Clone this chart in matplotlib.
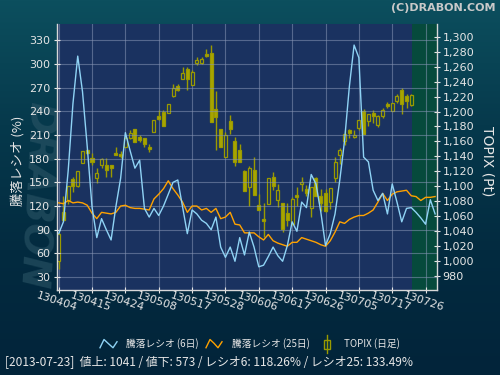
import numpy as np
import matplotlib
matplotlib.use("Agg")
import matplotlib.pyplot as plt
from matplotlib.lines import Line2D
from matplotlib.patches import Rectangle
from matplotlib.colors import LinearSegmentedColormap

plt.rcParams['font.family'] = ['DejaVu Sans', 'Noto Sans CJK JP']
JP = ['Noto Sans CJK JP', 'DejaVu Sans']

# ---------------- data ----------------
tick_labels = ['130404', '130415', '130424', '130508', '130517', '130528',
               '130606', '130617', '130626', '130705', '130717', '130726']
tick_days = [0, 7, 14, 21, 28, 35, 42, 49, 56, 63, 70, 77]

topix_open = [1000, 1066, 1082, 1110, 1100, 1131, 1148, 1138, 1111, 1128,
              1128, 1128, 1145, 1143, 1153, 1165, 1176, 1166, 1164, 1153,
              1172.5, 1193.5, 1199, 1198, 1220.4, 1234.3, 1243.7, 1256.2, 1235.2, 1265.1,
              1265, 1277.2, 1277.7, 1203.8, 1176.1, 1139, 1186.8, 1160, 1148.8, 1121.1,
              1099.6, 1122, 1075.4, 1056.2, 1076.3, 1113, 1082.1, 1077.2, 1063.8, 1049.5,
              1088, 1103.2, 1096.5, 1071, 1111.2, 1087.5, 1091.1, 1078.6, 1111.2, 1142.1,
              1160.4, 1174.7, 1166.3, 1178.3, 1200.7, 1186.8, 1197.6, 1182, 1194, 1209.6,
              1200.7, 1214.1, 1229.3, 1220.8, 1208.3]
topix_high = [1037, 1087, 1101, 1112, 1121, 1147, 1149, 1145, 1125, 1138,
              1138, 1129, 1153, 1147, 1166, 1175, 1177, 1169, 1165, 1156,
              1188, 1202.5, 1202, 1210.5, 1237.4, 1237.4, 1259.8, 1259.8, 1255.3, 1272.3,
              1272.3, 1283, 1288.8, 1227.1, 1176.5, 1172.5, 1194.9, 1165.8, 1156, 1122,
              1127.8, 1139, 1089.7, 1077.2, 1111.2, 1118.8, 1103.2, 1077.5, 1077.2, 1085.3,
              1098.7, 1112.1, 1102.3, 1098.7, 1112, 1096.5, 1096.5, 1098, 1139, 1151.1,
              1175.6, 1177, 1175.6, 1188.2, 1203.8, 1196.2, 1202.5, 1195.8, 1205.2, 1212.8,
              1211.4, 1223.1, 1232, 1223.1, 1224]
topix_low = [989, 1054, 1077, 1093, 1099, 1131, 1143, 1128, 1104, 1125,
             1112, 1112, 1142, 1138, 1152, 1163, 1159, 1159, 1153, 1146,
             1172, 1188, 1180.5, 1198, 1220, 1227.5, 1243.5, 1229.4, 1235, 1262,
             1264, 1273.2, 1186, 1148.8, 1152, 1139, 1170.3, 1127.8, 1133, 1094,
             1074.1, 1088, 1068.5, 1031.6, 1076.3, 1095.1, 1071.8, 1038.3, 1047.2, 1048.5,
             1074.1, 1094.2, 1087.5, 1058.4, 1087.5, 1067.4, 1065.1, 1069.6, 1105.4, 1130,
             1154.6, 1165, 1165, 1174.7, 1170.3, 1180.1, 1184.6, 1179.2, 1191.3, 1205.2,
             1200.7, 1211.9, 1197.1, 1205.2, 1207.4]
topix_close = [1036, 1055, 1101, 1100, 1120, 1147, 1145, 1132, 1118, 1136,
               1122, 1125, 1142.5, 1141, 1164, 1171, 1159, 1162, 1156, 1150,
               1188, 1189.5, 1180.6, 1209.6, 1231, 1228.4, 1251.7, 1243.2, 1252.6, 1268.7,
               1270, 1274.5, 1186, 1192.6, 1152.4, 1168, 1177, 1133.1, 1133.1, 1094.2,
               1124.6, 1088.4, 1068.7, 1053, 1111.2, 1100, 1095.1, 1042.8, 1054.8, 1083,
               1085.3, 1105.8, 1090.6, 1098.7, 1087.5, 1077.2, 1067.4, 1097.8, 1133.1, 1148.8,
               1170.3, 1171.2, 1169, 1188.2, 1170.3, 1196.2, 1194.4, 1193.5, 1202, 1207.4,
               1211.4, 1221.3, 1210.5, 1214.1, 1221.7]

ratio6 = [85, 100, 165, 250, 310, 265, 195, 119, 80, 104,
          90, 77, 119, 155, 213, 190, 168, 178, 117, 106,
          117, 108, 120, 135, 150, 153, 119, 85, 115, 110,
          102, 98, 90, 106, 68, 55, 68, 50, 80, 58,
          87, 68, 43, 45, 56, 68, 57, 50, 70, 100,
          88, 125, 118, 160, 148, 113, 70, 85, 110, 153,
          203, 271, 324, 308, 182, 176, 140, 127, 136, 110,
          148, 125, 100, 117, 118, 112, 105, 97, 128, 110]
ratio25 = [124, 123, 127, 124, 125, 124, 121, 111, 104, 112,
           111, 110, 112, 120, 121, 118, 117, 117, 116, 115,
           129, 135, 142, 152, 142, 134, 125, 112, 120, 120,
           115, 117, 112, 117, 104, 106, 112, 97, 96, 86,
           86, 86, 81, 77, 84, 76, 73, 71, 69, 74,
           74, 80, 78, 76, 74, 71, 69, 76, 87, 100,
           98, 103, 106, 108, 108, 111, 115, 125, 136, 127,
           135, 138, 139, 140, 133, 132, 127, 131, 131, 132]

left_ticks = [30, 60, 90, 120, 150, 180, 210, 240, 270, 300, 330]
right_ticks = [980, 1000, 1020, 1040, 1060, 1080, 1100, 1120, 1140, 1160,
               1180, 1200, 1220, 1240, 1260, 1280, 1300]

# ---------------- style ----------------
PLOT_BG = '#1a3260'
GREEN_BG = '#064a3c'
CANDLE_EDGE = '#9a9a00'
CANDLE_FILL = '#aaa600'
BLUE = '#8fd3f5'
ORANGE = '#ffa200'
TXT = '#e6e6e6'

fig = plt.figure(figsize=(5, 3.75), dpi=100)

# background gradient
bg = fig.add_axes([0, 0, 1, 1], zorder=-10)
bg.axis('off')
cmap = LinearSegmentedColormap.from_list('bgc', ['#0c4f5e', '#06394c', '#032b40', '#02243a'])
grad = np.linspace(0, 1, 256).reshape(-1, 1)
bg.imshow(grad, aspect='auto', cmap=cmap, extent=[0, 1, 0, 1], origin='upper')
bg.set_xlim(0, 1)
bg.set_ylim(0, 1)

# watermark
fig.text(0.072, 0.48, 'DRABON', rotation=-93, fontsize=28, weight='bold', style='italic',
         color='#2b5566', ha='center', va='center', alpha=0.6, zorder=-5)

axc = fig.add_axes([0.114, 0.2267, 0.76, 0.7093])
axc.set_facecolor(PLOT_BG)
n = len(topix_open)
x = np.arange(n)
xmin, xmax = -0.35, 79.4
axc.axvspan(74.1, xmax, color=GREEN_BG, zorder=0, lw=0)

# candles
for i in range(n):
    o, h, l, c = topix_open[i], topix_high[i], topix_low[i], topix_close[i]
    axc.vlines(x[i], l, h, color=CANDLE_EDGE, lw=1.0, zorder=2)
    lo, hi = min(o, c), max(o, c)
    if hi - lo < 1.2:
        hi = lo + 1.2
    up = c >= o
    face = (GREEN_BG if i >= 74 else PLOT_BG) if up else CANDLE_FILL
    axc.add_patch(Rectangle((x[i] - 0.32, lo), 0.64, hi - lo, facecolor=face,
                            edgecolor=CANDLE_EDGE, lw=0.9, zorder=3))

axc.set_xlim(xmin, xmax)
axc.set_ylim(961.4, 1317)

axr = axc.twinx()
axr.patch.set_visible(False)
r = np.arange(len(ratio6))
axr.plot(r, ratio25, color=ORANGE, lw=1.0, zorder=4)
axr.plot(r, ratio6, color=BLUE, lw=1.0, zorder=5)
axr.set_ylim(13.6, 350.7)
axr.set_xlim(xmin, xmax)

# put TOPIX ticks on the right, ratio ticks on the left
axc.yaxis.tick_right()
axr.yaxis.tick_left()
axc.set_yticks(right_ticks)
axc.set_yticklabels([f'{v:,}' for v in right_ticks])
axc.tick_params(axis='y', which='both', left=False, labelleft=False, right=True, labelright=True,
                colors=TXT, labelsize=8, length=4, direction='inout', pad=2)
axr.set_yticks(left_ticks)
axr.set_yticklabels([str(v) for v in left_ticks])
axr.tick_params(axis='y', which='both', right=False, labelright=False, left=True, labelleft=True,
                colors=TXT, labelsize=8, length=4, direction='inout', pad=3)

axr.grid(True, axis='y', color='#8795b5', lw=0.8, alpha=0.55)
axc.set_xticks(tick_days)
axc.grid(True, axis='x', color='#8795b5', lw=0.8, alpha=0.55)
axr.set_xticks(tick_days)
axr.tick_params(axis='x', length=0, labelbottom=False)
axc.set_xticklabels(tick_labels, rotation=-18, ha='center', va='top',
                    rotation_mode='anchor')
axc.tick_params(axis='x', colors=TXT, labelsize=8, length=4, direction='inout', pad=3)

for a in (axc, axr):
    for s in a.spines.values():
        s.set_visible(False)
for side in ('left', 'right', 'bottom'):
    axr.spines[side].set_visible(True)
    axr.spines[side].set_color('#d8d8d8')
    axr.spines[side].set_linewidth(1.0)

# axis labels
fig.text(0.036, 0.57, '騰落レシオ (%)', rotation=90, fontsize=9.5, color=TXT,
         ha='center', va='center', family=JP)
fig.text(0.974, 0.57, 'TOPIX (Pt)', rotation=270, fontsize=10, color=TXT,
         ha='center', va='center')

# title
fig.text(0.99, 0.978, '(C)DRABON.COM', fontsize=8, weight='bold', color='#c9c9c9',
         ha='right', va='center')

# legend
ly = 1 - 344 / 375
fig.add_artist(Line2D([100/500, 104/500, 108/500, 113/500, 117/500],
                      [ly - 0.010, ly + 0.012, ly + 0.002, ly - 0.010, ly + 0.006],
                      color=BLUE, lw=1.0))
fig.text(126/500, ly, '騰落レシオ (6日)', fontsize=7, color=TXT, va='center', family=JP)
fig.add_artist(Line2D([206/500, 210/500, 214/500, 218/500, 222/500],
                      [ly - 0.010, ly + 0.012, ly + 0.002, ly - 0.010, ly + 0.006],
                      color=ORANGE, lw=1.0))
fig.text(232/500, ly, '騰落レシオ (25日)', fontsize=7, color=TXT, va='center', family=JP)
fig.add_artist(Line2D([327/500, 327/500], [ly - 0.024, ly + 0.024], color=CANDLE_EDGE, lw=1.0))
fig.add_artist(Rectangle((324/500, ly - 0.012), 6/500, 0.024, facecolor='#022a3e',
                         edgecolor=CANDLE_EDGE, lw=1.0, transform=fig.transFigure))
fig.text(344/500, ly, 'TOPIX (日足)', fontsize=7, color=TXT, va='center', family=JP)

# info line
fig.text(5/500, 1 - 363/375,
         '[2013-07-23]  値上: 1041 / 値下: 573 / レシオ6: 118.26% / レシオ25: 133.49%',
         fontsize=8.6, color=TXT, va='center', ha='left', family=JP)

fig.savefig('out.png', dpi=100)
